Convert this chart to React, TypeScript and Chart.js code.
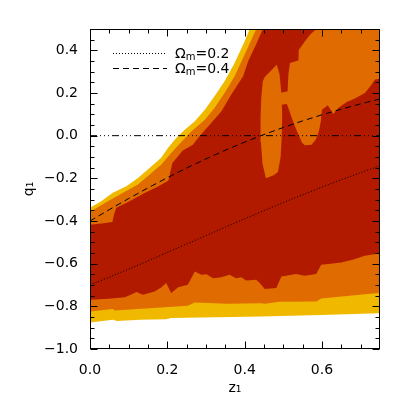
import React, { useEffect, useRef } from 'react';
import { Chart, registerables } from 'chart.js';

Chart.register(...registerables);

const FONT = '"DejaVu Sans", "Noto Sans", sans-serif';
const YELLOW = 'rgb(240,185,0)';
const ORANGE = 'rgb(224,107,0)';
const RED = 'rgb(178,26,0)';

// ---- axes ----
const xTickValues = [0.0, 0.2, 0.4, 0.6];
const yTickValues = [-1.0, -0.8, -0.6, -0.4, -0.2, 0.0, 0.2, 0.4];
const xMinorTicks = [0.05, 0.1, 0.15, 0.25, 0.3, 0.35, 0.45, 0.5, 0.55, 0.65, 0.7];
const yMinorTicks = [-0.95, -0.9, -0.85, -0.75, -0.7, -0.65, -0.55, -0.5, -0.45, -0.35, -0.3, -0.25, -0.15, -0.1, -0.05, 0.05, 0.1, 0.15, 0.25, 0.3, 0.35, 0.45];

// ---- model curves (flat LCDM q(z)) ----
const zGrid = [0, 0.05, 0.1, 0.15, 0.2, 0.25, 0.3, 0.35, 0.4, 0.45, 0.5, 0.55, 0.6, 0.65, 0.7, 0.75];
const qOmega02 = [-0.7, -0.6633, -0.6255, -0.5868, -0.5475, -0.5079, -0.4682, -0.4287, -0.3897, -0.3512, -0.3136, -0.2768, -0.2411, -0.2065, -0.1732, -0.1411];
const qOmega04 = [-0.4, -0.3466, -0.2948, -0.2448, -0.197, -0.1516, -0.1086, -0.0681, -0.0302, 0.0053, 0.0385, 0.0693, 0.0979, 0.1245, 0.1492, 0.172];
const zeroLineZ = [0, 0.75];
const zeroLineQ = [0, 0];

// ---- legend ----
const legendSymbol = 'Ω';
const legendSub = 'm';
const legendValues = ['0.2', '0.4'];

// ---- confidence contours (z1, q1) ----
const yellowOuterEdge: [number, number][] = [
  [0, -0.338], [0.029, -0.307], [0.059, -0.268], [0.094, -0.237], [0.124, -0.198],
  [0.154, -0.151], [0.184, -0.104], [0.202, -0.057], [0.223, -0.011], [0.245, 0.028],
  [0.271, 0.068], [0.297, 0.122], [0.322, 0.185], [0.348, 0.255], [0.374, 0.341],
  [0.4, 0.442], [0.413, 0.5], [0.425, 0.56],
];
const orangeUpperEdge: [number, number][] = [
  [0, -0.357], [0.059, -0.295], [0.124, -0.229], [0.184, -0.136], [0.21, -0.081],
  [0.236, -0.03], [0.262, 0.02], [0.297, 0.075], [0.322, 0.13], [0.348, 0.2],
  [0.374, 0.278], [0.4, 0.38], [0.43, 0.5], [0.44, 0.56],
];
const redUpperEdge: [number, number][] = [
  [0, -0.417], [0.035, -0.41], [0.058, -0.405], [0.062, -0.37], [0.068, -0.338],
  [0.1, -0.31], [0.14, -0.27], [0.176, -0.238], [0.203, -0.21], [0.207, -0.175],
  [0.213, -0.128], [0.24, -0.07], [0.266, -0.042], [0.284, 0.0], [0.31, 0.052],
  [0.34, 0.114], [0.365, 0.192], [0.396, 0.278], [0.409, 0.349], [0.43, 0.43],
  [0.447, 0.5], [0.455, 0.56],
];
const redLowerEdge: [number, number][] = [
  [0, -0.769], [0.047, -0.765], [0.09, -0.758], [0.107, -0.745], [0.12, -0.733],
  [0.137, -0.746], [0.167, -0.73], [0.184, -0.712], [0.197, -0.691], [0.21, -0.738],
  [0.228, -0.71], [0.253, -0.699], [0.271, -0.637], [0.288, -0.652], [0.301, -0.65],
  [0.318, -0.668], [0.34, -0.664], [0.361, -0.652], [0.378, -0.668], [0.391, -0.664],
  [0.404, -0.679], [0.43, -0.675], [0.439, -0.691], [0.452, -0.719], [0.482, -0.714],
  [0.495, -0.66], [0.533, -0.648], [0.555, -0.657], [0.585, -0.648], [0.598, -0.605],
  [0.65, -0.594], [0.684, -0.579], [0.71, -0.563], [0.745, -0.554],
];
const orangeLowerEdge: [number, number][] = [
  [0, -0.824], [0.059, -0.813], [0.064, -0.82], [0.124, -0.813], [0.193, -0.804],
  [0.253, -0.797], [0.271, -0.782], [0.357, -0.788], [0.443, -0.785], [0.452, -0.788],
  [0.49, -0.779], [0.585, -0.777], [0.598, -0.763], [0.745, -0.738],
];
const yellowLowerEdge: [number, number][] = [
  [0, -0.876], [0.059, -0.863], [0.07, -0.869], [0.13, -0.863], [0.197, -0.86],
  [0.21, -0.855], [0.443, -0.848], [0.598, -0.841], [0.745, -0.832],
];
const lensIsland: [number, number][] = [
  [0.483, 0.333], [0.49, 0.29], [0.495, 0.2], [0.497, 0.1], [0.496, 0.0],
  [0.493, -0.1], [0.486, -0.17], [0.475, -0.185], [0.455, -0.2], [0.446, -0.13],
  [0.442, -0.03], [0.441, 0.08], [0.443, 0.18], [0.447, 0.255], [0.452, 0.275],
];
const blobIsland: [number, number][] = [
  [0.585, 0.56], [0.585, 0.5], [0.569, 0.473], [0.556, 0.442], [0.547, 0.419],
  [0.54, 0.403], [0.539, 0.352], [0.517, 0.341], [0.513, 0.286], [0.511, 0.208],
  [0.485, 0.198], [0.485, 0.143], [0.509, 0.149], [0.513, 0.13], [0.522, 0.083],
  [0.53, 0.044], [0.539, 0.005], [0.549, -0.034], [0.556, -0.045], [0.573, -0.042],
  [0.584, -0.018], [0.592, 0.021], [0.597, 0.068], [0.6, 0.122], [0.615, 0.143],
  [0.629, 0.102], [0.642, 0.13], [0.664, 0.158], [0.685, 0.174], [0.711, 0.2],
  [0.728, 0.239], [0.737, 0.263], [0.77, 0.274], [0.77, 0.56],
];

const X_LO = -0.02;
const X_HI = 0.77;
const Y_TOP = 0.6;

function band(upper: [number, number][], lower: [number, number][]) {
  const up: [number, number][] = [[X_LO, upper[0][1]], ...upper, [X_HI, Y_TOP]];
  const lo: [number, number][] = [[X_LO, lower[0][1]], ...lower, [X_HI, lower[lower.length - 1][1]]];
  return [...up, ...lo.reverse()].map(([x, y]) => ({ x, y }));
}
const poly = (pts: [number, number][]) => pts.map(([x, y]) => ({ x, y }));
const pairs = (xs: number[], ys: number[]) => xs.map((x, i) => ({ x, y: ys[i] }));

const fmt = (v: number) => (v < -1e-9 ? '\u2212' + Math.abs(v).toFixed(1) : Math.abs(v).toFixed(1));

const frameTicks = {
  id: 'frameTicks',
  afterDatasetsDraw(chart: any) {
    const { ctx, chartArea, scales } = chart;
    const { x, y } = scales;
    const L = Math.floor(chartArea.left) + 0.5;
    const R = Math.round(chartArea.right) - 0.5;
    const T = Math.floor(chartArea.top) + 0.5;
    const B = Math.round(chartArea.bottom) - 0.5;
    ctx.save();
    ctx.strokeStyle = '#000';
    ctx.lineWidth = 1;
    ctx.setLineDash([]);
    const seg = (x1: number, y1: number, x2: number, y2: number) => {
      ctx.beginPath();
      ctx.moveTo(x1, y1);
      ctx.lineTo(x2, y2);
      ctx.stroke();
    };
    const xt = (v: number, len: number) => {
      const p = Math.round(x.getPixelForValue(v)) + 0.5;
      seg(p, B, p, B - len);
      seg(p, T, p, T + len);
    };
    const yt = (v: number, len: number) => {
      const p = Math.round(y.getPixelForValue(v)) + 0.5;
      seg(L, p, L + len, p);
      seg(R, p, R - len, p);
    };
    xTickValues.forEach((v) => xt(v, 7));
    xMinorTicks.forEach((v) => xt(v, 4));
    yTickValues.forEach((v) => yt(v, 7));
    yMinorTicks.forEach((v) => yt(v, 4));
    ctx.strokeRect(L, T, R - L, B - T);
    ctx.restore();
  },
};

const omegaLegend = {
  id: 'omegaLegend',
  afterDatasetsDraw(chart: any) {
    const { ctx, chartArea } = chart;
    const dashes = [[1, 2], [6, 4]];
    const x0 = chartArea.left + 23;
    const x1 = chartArea.left + 77;
    const tx = chartArea.left + 85;
    legendValues.forEach((val, i) => {
      const yLine = Math.round(chartArea.top + 24 + i * 15) + 0.5;
      ctx.save();
      ctx.strokeStyle = '#000';
      ctx.lineWidth = 1;
      ctx.setLineDash(dashes[i]);
      ctx.beginPath();
      ctx.moveTo(x0, yLine);
      ctx.lineTo(x1, yLine);
      ctx.stroke();
      ctx.setLineDash([]);
      const base = yLine + 4;
      ctx.fillStyle = '#000';
      ctx.textAlign = 'left';
      ctx.textBaseline = 'alphabetic';
      ctx.font = `14px ${FONT}`;
      ctx.fillText(legendSymbol, tx, base);
      let cx = tx + ctx.measureText(legendSymbol).width;
      ctx.font = `10px ${FONT}`;
      ctx.fillText(legendSub, cx, base + 2.5);
      cx += ctx.measureText(legendSub).width;
      ctx.font = `14px ${FONT}`;
      ctx.fillText('=' + val, cx, base);
      ctx.restore();
    });
  },
};

const polyStyle = (color: string, order: number) => ({
  type: 'line' as const,
  backgroundColor: color,
  borderColor: 'rgba(0,0,0,0)',
  borderWidth: 0,
  pointRadius: 0,
  tension: 0,
  fill: 'shape' as const,
  order,
});

const lineStyle = (dash: number[], order: number) => ({
  type: 'line' as const,
  borderColor: '#000',
  borderWidth: 1,
  borderDash: dash,
  pointRadius: 0,
  tension: 0,
  fill: false,
  order,
});

export default function App() {
  const ref = useRef<HTMLCanvasElement | null>(null);
  useEffect(() => {
    if (!ref.current) return;
    const chart = new Chart(ref.current, {
      type: 'line',
      data: {
        datasets: [
          { label: '95%', data: band(yellowOuterEdge, yellowLowerEdge), ...polyStyle(YELLOW, 10) },
          { label: '68%', data: band(orangeUpperEdge, orangeLowerEdge), ...polyStyle(ORANGE, 9) },
          { label: 'best', data: band(redUpperEdge, redLowerEdge), ...polyStyle(RED, 8) },
          { label: 'lens', data: poly(lensIsland), ...polyStyle(ORANGE, 7) },
          { label: 'blob', data: poly(blobIsland), ...polyStyle(ORANGE, 7) },
          { label: 'q=0', data: pairs(zeroLineZ, zeroLineQ), ...lineStyle([7, 3, 1, 3, 1, 3, 1, 3], 3) },
          { label: 'Ωm=0.4', data: pairs(zGrid, qOmega04), ...lineStyle([6, 4], 2) },
          { label: 'Ωm=0.2', data: pairs(zGrid, qOmega02), ...lineStyle([1, 2], 1) },
        ] as any,
      },
      options: {
        animation: false,
        responsive: false,
        devicePixelRatio: 1,
        layout: { padding: { left: 0, right: 27, top: 29, bottom: 0 } },
        plugins: { legend: { display: false }, tooltip: { enabled: false } },
        scales: {
          x: {
            type: 'linear',
            min: 0,
            max: 0.75,
            grid: { display: false },
            border: { display: false },
            afterBuildTicks: (axis: any) => {
              axis.ticks = xTickValues.map((value) => ({ value }));
            },
            afterFit: (s: any) => {
              s.height = 58;
            },
            ticks: {
              color: '#000',
              font: { family: FONT, size: 14 },
              padding: 5,
              maxRotation: 0,
              callback: (v: any) => fmt(Number(v)),
            },
            title: {
              display: true,
              text: 'z₁',
              color: '#000',
              font: { family: FONT, size: 14 },
              padding: { top: 0, bottom: 10 },
            },
          },
          y: {
            type: 'linear',
            min: -1.0,
            max: 0.5,
            grid: { display: false },
            border: { display: false },
            afterBuildTicks: (axis: any) => {
              axis.ticks = yTickValues.map((value) => ({ value }));
            },
            afterFit: (s: any) => {
              s.width = 90;
            },
            ticks: {
              color: '#000',
              font: { family: FONT, size: 14 },
              padding: 4,
              callback: (v: any) => fmt(Number(v)),
            },
            title: {
              display: true,
              text: 'q₁',
              color: '#000',
              font: { family: FONT, size: 14 },
              padding: { top: 21, bottom: 0 },
            },
          },
        },
      } as any,
      plugins: [frameTicks, omegaLegend],
    });
    return () => chart.destroy();
  }, []);
  return (
    <div style={{ position: 'absolute', left: 0, top: 0, width: 407, height: 407, background: '#fff' }}>
      <canvas ref={ref} width={407} height={407} style={{ display: 'block' }} />
    </div>
  );
}
